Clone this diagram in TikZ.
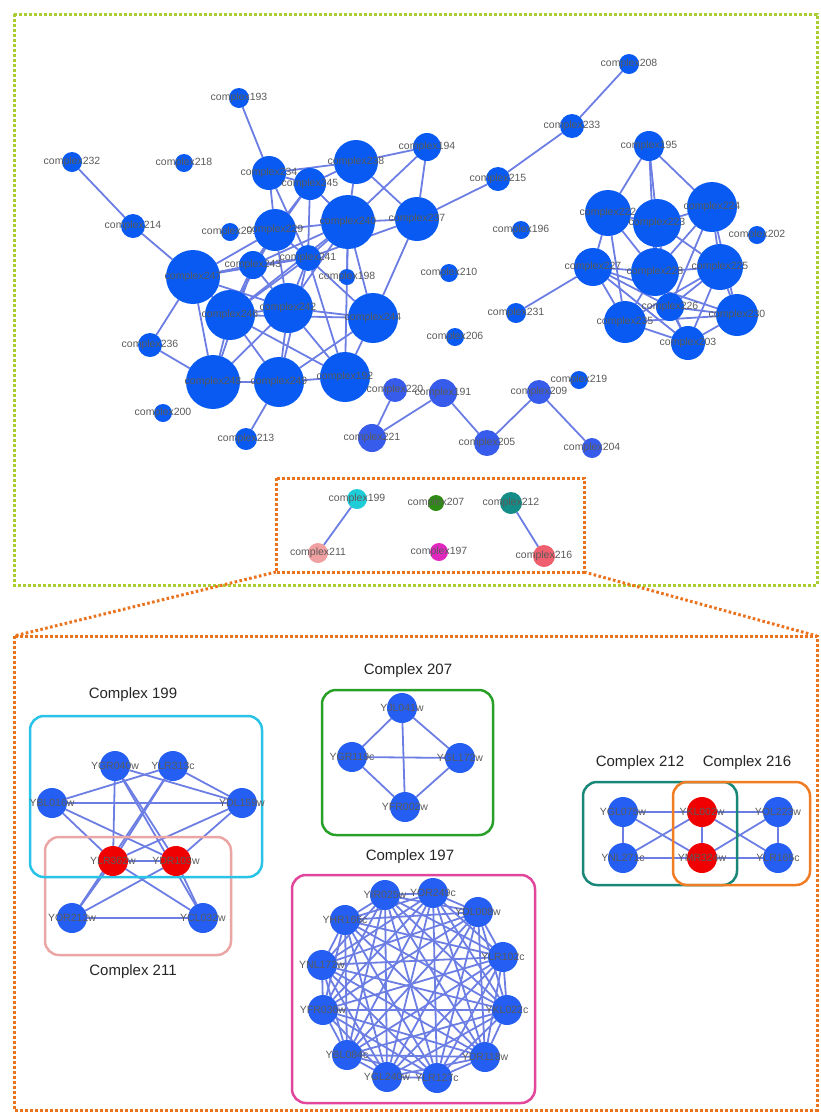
\documentclass[tikz,border=0pt]{standalone}
\usepackage{fontspec}
\setmainfont{Liberation Sans}
\usetikzlibrary{positioning}
\definecolor{hubblue}{RGB}{8,90,242}
\definecolor{chainblue}{RGB}{55,92,236}
\definecolor{protblue}{RGB}{36,94,242}
\definecolor{protred}{RGB}{240,0,0}
\definecolor{edgeblue}{RGB}{108,126,228}
\definecolor{taggrey}{RGB}{90,90,90}
\definecolor{framegreen}{RGB}{170,205,50}
\definecolor{frameorange}{RGB}{235,115,30}
\definecolor{col199}{RGB}{30,205,215}
\definecolor{col207}{RGB}{46,140,20}
\definecolor{col212}{RGB}{20,140,135}
\definecolor{col211}{RGB}{240,160,160}
\definecolor{col197}{RGB}{225,40,190}
\definecolor{col216}{RGB}{240,95,110}
\definecolor{box199}{RGB}{40,195,230}
\definecolor{box211}{RGB}{235,165,165}
\definecolor{box207}{RGB}{40,160,40}
\definecolor{box197}{RGB}{225,70,155}
\definecolor{box212}{RGB}{25,135,120}
\definecolor{box216}{RGB}{240,125,35}
\pgfdeclarelayer{bg}
\pgfsetlayers{bg,main}
\tikzstyle{hub}=[circle, fill=hubblue, inner sep=0pt, outer sep=0pt]
\tikzstyle{prot}=[circle, fill=protblue, inner sep=0pt, outer sep=0pt, minimum size=30pt]
\tikzstyle{tag}=[text=taggrey, font=\fontsize{10.5}{10.5}\selectfont, inner sep=0pt]
\tikzstyle{link}=[edgeblue, line width=1.8pt]
\tikzstyle{frame}=[line width=3pt, dash pattern=on 2.6pt off 2.4pt]
\tikzstyle{group}=[line width=2.5pt, rounded corners=14pt]
\tikzstyle{gtitle}=[font=\fontsize{15}{15}\selectfont, text=black!85, inner sep=0pt]
\newcommand*{\cx}[5][hub]{\node [#1, minimum size=2*#5pt, label={[tag]center:complex#2}] (c#2) at (#3,#4) {};}
\newcommand*{\gene}[5][protblue]{\node [prot, fill=#1, label={[tag]center:#3}] (#2) at (#4,#5) {};}

\begin{document}
\begin{tikzpicture}[x=1pt, y=-1pt]
    \useasboundingbox (0,0) rectangle (820,1112);

    \draw [frame, framegreen] (14,14) rectangle (817,585);
    \coordinate (zb1) at (276,478);
    \coordinate (zb2) at (584,572);
    \coordinate (zb3) at (14,636);
    \coordinate (zb4) at (817,636);
    \draw [frame, frameorange] (zb1) rectangle (zb2);
    \draw [frame, frameorange] (zb1 |- zb2) -- (zb3);
    \draw [frame, frameorange] (zb2) -- (zb4);
    \draw [frame, frameorange] (zb3) rectangle (817,1110);

    % overview network
    \cx{193}{239}{98}{10}
    \cx{232}{72}{162}{10}
    \cx{218}{184}{163}{9}
    \cx{214}{133}{226}{12}
    \cx{201}{230}{232}{9}
    \cx{234}{269}{173}{17}
    \cx{245}{310}{184}{16}
    \cx{238}{356}{162}{22}
    \cx{194}{427}{147}{14}
    \cx{240}{348}{222}{27}
    \cx{237}{417}{219}{22}
    \cx{229}{275}{230}{21}
    \cx{241}{308}{258}{13}
    \cx{243}{253}{265}{14}
    \cx{198}{347}{277}{8}
    \cx{247}{193}{277}{27}
    \cx{246}{230}{315}{25}
    \cx{242}{288}{308}{25}
    \cx{244}{373}{318}{25}
    \cx{236}{150}{345}{12}
    \cx{248}{213}{382}{27}
    \cx{249}{279}{382}{25}
    \cx{192}{345}{377}{25}
    \cx{200}{163}{413}{9}
    \cx{213}{246}{439}{11}
    \cx[hub, fill=chainblue]{220}{395}{390}{12}
    \cx[hub, fill=chainblue]{191}{443}{393}{14}
    \cx[hub, fill=chainblue]{221}{372}{438}{14}
    \cx[hub, fill=chainblue]{205}{487}{443}{13}
    \cx[hub, fill=chainblue]{209}{539}{392}{12}
    \cx{219}{579}{380}{9}
    \cx[hub, fill=chainblue]{204}{592}{448}{10}
    \cx{210}{449}{273}{9}
    \cx{206}{455}{337}{9}
    \cx{231}{516}{313}{10}
    \cx{196}{521}{230}{9}
    \cx{215}{498}{179}{12}
    \cx{233}{572}{126}{12}
    \cx{208}{629}{64}{10}
    \cx{195}{649}{146}{15}
    \cx{222}{608}{213}{23}
    \cx{223}{657}{223}{24}
    \cx{224}{712}{207}{25}
    \cx{202}{757}{235}{9}
    \cx{227}{593}{267}{19}
    \cx{228}{655}{272}{24}
    \cx{225}{720}{267}{23}
    \cx{226}{670}{307}{14}
    \cx{235}{625}{322}{21}
    \cx{230}{737}{315}{21}
    \cx{203}{688}{343}{17}

    % selected complexes
    \cx[hub, fill=col199]{199}{357}{499}{10}
    \cx[hub, fill=col207]{207}{436}{503}{8}
    \cx[hub, fill=col212]{212}{511}{503}{11}
    \cx[hub, fill=col211]{211}{318}{553}{10}
    \cx[hub, fill=col197]{197}{439}{552}{9}
    \cx[hub, fill=col216]{216}{544}{556}{11}

    \begin{pgfonlayer}{bg}
        \foreach \a/\b in {193/234, 232/214, 214/247, 234/245, 234/238, 234/229, 234/241,
            245/238, 245/240, 245/229, 245/241, 245/243, 238/194, 238/240, 238/237,
            194/237, 194/240, 237/240, 237/215, 237/244, 237/241, 215/233, 233/208,
            240/229, 240/241, 240/243, 240/242, 240/244, 240/246, 240/192, 240/198,
            229/241, 229/243, 229/247, 229/246, 229/242, 247/243, 247/246, 247/236,
            247/248, 247/241, 247/242, 243/241, 243/246, 243/242, 243/248, 241/242,
            241/244, 241/246, 241/192, 241/249, 246/242, 246/248, 246/249, 246/192,
            246/244, 242/244, 242/248, 242/249, 242/192, 244/192, 244/249, 248/249,
            236/248, 249/192, 249/213, 220/221, 221/191, 191/205, 205/209, 209/204,
            231/227, 195/222, 195/223, 195/224, 195/228, 222/223, 222/227, 222/228,
            222/235, 223/224, 223/228, 223/225, 223/226, 224/228, 224/225, 224/230,
            224/226, 227/228, 227/235, 227/226, 227/203, 227/230, 228/225, 228/226,
            228/235, 228/203, 225/226, 225/230, 225/203, 225/235, 226/203, 226/230,
            235/203, 235/230, 203/230, 199/211, 212/216}
            \draw [link] (c\a) -- (c\b);
    \end{pgfonlayer}

    % complex 199 / 211
    \draw [group, box211] (45,837) rectangle (231,955);
    \draw [group, box199] (30,716) rectangle (262,877);
    \node [gtitle] (t199) at (133,695) {Complex 199};
    \node [gtitle] (t211) at (133,972) {Complex 211};
    \gene{a1}{YGR040w}{115}{766}
    \gene{a2}{YLR313c}{173}{766}
    \gene{a3}{YBL016w}{52}{803}
    \gene{a4}{YDL159w}{242}{803}
    \gene[protred]{a5}{YLR362w}{113}{861}
    \gene[protred]{a6}{YDR103w}{176}{861}
    \gene{a7}{YOR212w}{72}{918}
    \gene{a8}{YCL032w}{203}{918}

    % complex 207
    \draw [group, box207] (322,690) rectangle (493,835);
    \node [gtitle] (t207) at (408,671) {Complex 207};
    \gene{b1}{YJL041w}{402}{708}
    \gene{b2}{YGR119c}{352}{757}
    \gene{b3}{YGL172w}{460}{758}
    \gene{b4}{YFR002w}{405}{807}

    % complex 197
    \draw [group, box197] (292,875) rectangle (535,1103);
    \node [gtitle] (t197) at (410,857) {Complex 197};
    \gene{k1}{YIR025w}{385}{895}
    \gene{k2}{YOR249c}{433}{893}
    \gene{k3}{YDL008w}{478}{912}
    \gene{k4}{YLR102c}{503}{957}
    \gene{k5}{YKL022c}{507}{1010}
    \gene{k6}{YDR118w}{485}{1057}
    \gene{k7}{YLR127c}{437}{1078}
    \gene{k8}{YGL240w}{387}{1077}
    \gene{k9}{YBL084c}{347}{1055}
    \gene{k10}{YFR036w}{323}{1010}
    \gene{k11}{YNL172w}{322}{965}
    \gene{k12}{YHR166c}{345}{920}

    % complex 212 / 216
    \draw [group, box212] (583,782) rectangle (737,885);
    \draw [group, box216] (673,782) rectangle (810,885);
    \node [gtitle] (t212) at (640,763) {Complex 212};
    \node [gtitle] (t216) at (747,763) {Complex 216};
    \gene{d1}{YGL075w}{623}{812}
    \gene[protred]{d2}{YKL002w}{702}{812}
    \gene{d3}{YOL223w}{778}{812}
    \gene{d4}{YNL271c}{623}{858}
    \gene[protred]{d5}{YMR324w}{702}{858}
    \gene{d6}{YLR165c}{778}{858}

    \begin{pgfonlayer}{bg}
        \foreach \a/\b in {a3/a4, a3/a2, a3/a5, a3/a6, a1/a4, a1/a5, a1/a6, a1/a8,
            a2/a4, a2/a5, a2/a7, a4/a5, a4/a6, a5/a6, a5/a7, a5/a8, a6/a7, a6/a8, a7/a8,
            b1/b2, b1/b3, b1/b4, b2/b3, b2/b4, b3/b4,
            d1/d2, d2/d3, d4/d5, d5/d6, d1/d4, d2/d5, d3/d6, d1/d5, d4/d2, d2/d6, d5/d3}
            \draw [link] (\a) -- (\b);
        \foreach \i in {1,...,11} {
            \pgfmathtruncatemacro{\nx}{\i + 1}
            \foreach \j in {\nx,...,12}
                \draw [link] (k\i) -- (k\j);
        }
    \end{pgfonlayer}
\end{tikzpicture}
\end{document}
